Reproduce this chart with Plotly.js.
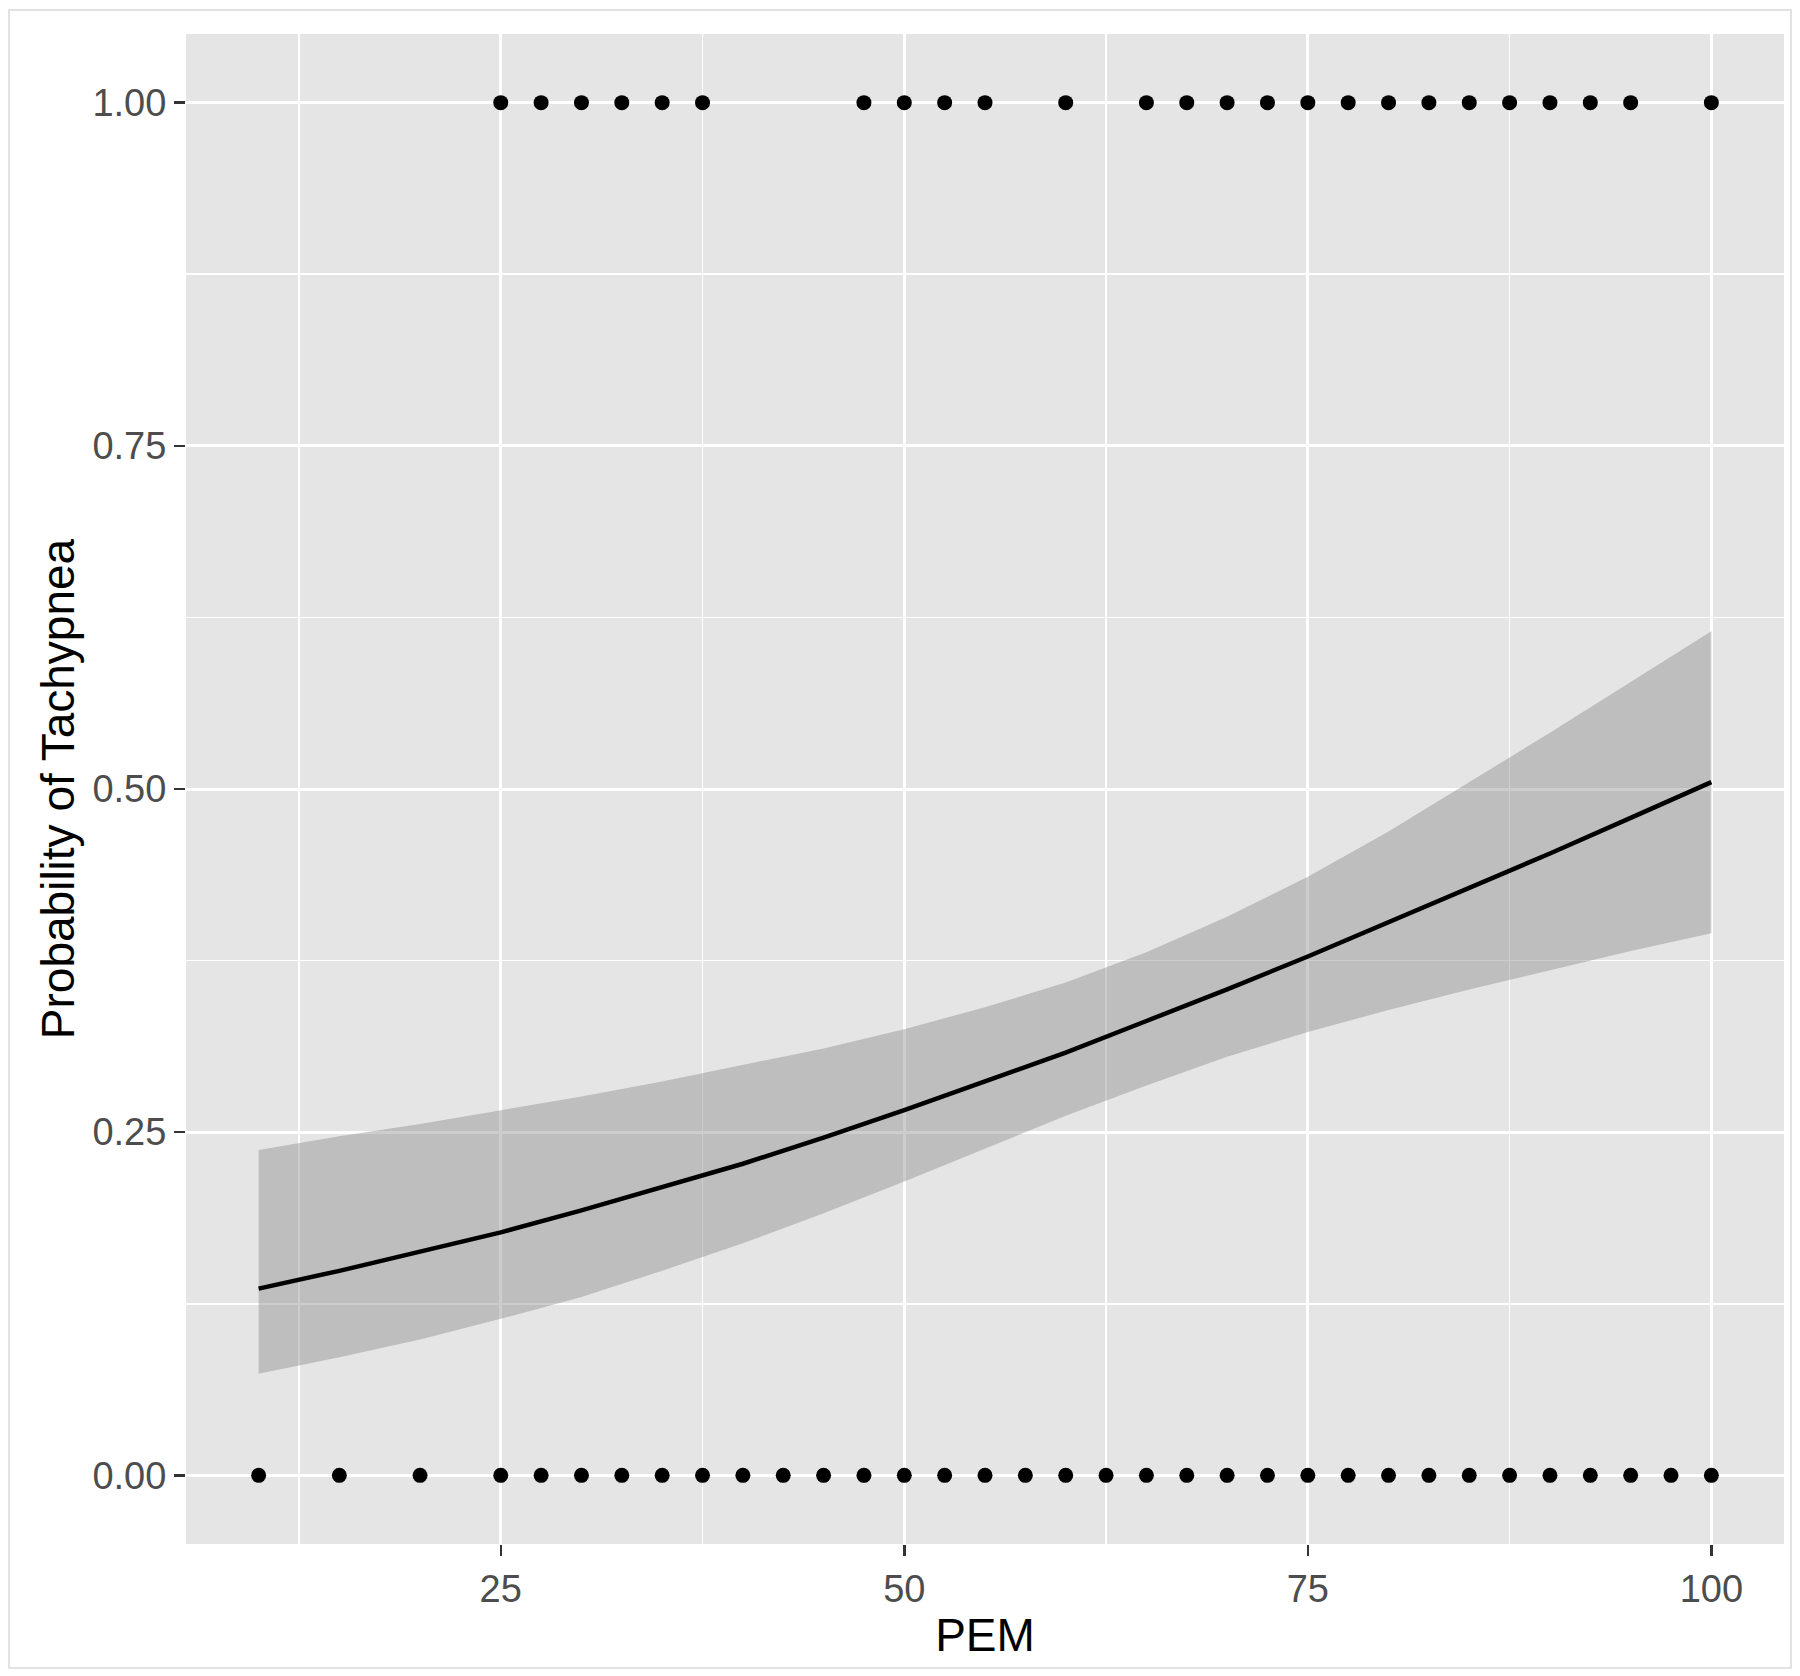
<!DOCTYPE html>
<html>
<head>
<meta charset="utf-8">
<script src="https://cdn.plot.ly/plotly-3.0.1.min.js"></script>
<style>
  html, body { margin: 0; padding: 0; background: #ffffff; }
  #wrap { position: relative; width: 1800px; height: 1676px; }
  #chart { position: absolute; left: 0; top: 0; width: 1800px; height: 1676px; }
  #frame { position: absolute; left: 8px; top: 9px; width: 1780px; height: 1656px;
           border: 2px solid #e2e2e2; pointer-events: none; }
</style>
</head>
<body>
<div id="wrap">
  <div id="chart"></div>
  <div id="frame"></div>
</div>
<script>
// Observed data points (PEM, outcome)
const pemZero = [10, 15, 20, 25, 27.5, 30, 32.5, 35, 37.5, 40, 42.5, 45, 47.5, 50, 52.5, 55, 57.5, 60,
                 62.5, 65, 67.5, 70, 72.5, 75, 77.5, 80, 82.5, 85, 87.5, 90, 92.5, 95, 97.5, 100];
const pemOne = [25, 27.5, 30, 32.5, 35, 37.5, 47.5, 50, 52.5, 55, 60, 65, 67.5, 70, 72.5, 75, 77.5,
                80, 82.5, 85, 87.5, 90, 92.5, 95, 100];
const outcomeZero = pemZero.map(() => 0);
const outcomeOne = pemOne.map(() => 1);

// Fitted probability curve and confidence band
const fitX = [10, 15, 20, 25, 30, 35, 40, 45, 50, 55, 60, 65, 70, 75, 80, 85, 90, 95, 100];
const fitP = [0.136, 0.149, 0.163, 0.177, 0.193, 0.210, 0.227, 0.246, 0.266, 0.287, 0.308, 0.331,
              0.354, 0.378, 0.403, 0.428, 0.453, 0.479, 0.505];
const fitUpper = [0.237, 0.247, 0.256, 0.266, 0.276, 0.287, 0.299, 0.311, 0.325, 0.341, 0.359, 0.381,
                  0.407, 0.436, 0.469, 0.505, 0.541, 0.578, 0.615];
const fitLower = [0.074, 0.086, 0.099, 0.114, 0.130, 0.149, 0.169, 0.191, 0.214, 0.238, 0.262, 0.284,
                  0.305, 0.323, 0.339, 0.354, 0.368, 0.382, 0.395];

// Axis tick labels
const xTicks = [25, 50, 75, 100];
const yTicks = [0, 0.25, 0.5, 0.75, 1];
const yTickText = ["0.00", "0.25", "0.50", "0.75", "1.00"];

const FONT = "Liberation Sans, Arial, Helvetica, sans-serif";

const traces = [
  {
    x: fitX, y: fitLower, type: "scatter", mode: "lines",
    line: { width: 0, color: "rgba(0,0,0,0)" }, hoverinfo: "skip", showlegend: false
  },
  {
    x: fitX, y: fitUpper, type: "scatter", mode: "lines", fill: "tonexty",
    fillcolor: "rgba(133,133,133,0.41)",
    line: { width: 0, color: "rgba(0,0,0,0)" }, hoverinfo: "skip", showlegend: false
  },
  {
    x: fitX, y: fitP, type: "scatter", mode: "lines",
    line: { color: "#000000", width: 4.5 }, showlegend: false
  },
  {
    x: pemZero, y: outcomeZero, type: "scatter", mode: "markers",
    marker: { color: "#000000", size: 15 }, showlegend: false
  },
  {
    x: pemOne, y: outcomeOne, type: "scatter", mode: "markers",
    marker: { color: "#000000", size: 15 }, showlegend: false
  }
];

const layout = {
  width: 1800, height: 1676,
  margin: { l: 186, r: 16, t: 34, b: 132 },
  paper_bgcolor: "#ffffff",
  plot_bgcolor: "#e5e5e5",
  showlegend: false,
  font: { family: FONT, color: "#4d4d4d" },
  xaxis: {
    range: [5.5, 104.5],
    tickvals: xTicks,
    ticktext: xTicks.map(String),
    showgrid: true, gridcolor: "#ffffff", gridwidth: 3,
    minor: { tick0: 0, dtick: 12.5, showgrid: true, gridcolor: "#ffffff", gridwidth: 1.5, ticks: "" },
    zeroline: false, showline: false,
    ticks: "outside", ticklen: 11, tickwidth: 2.5, tickcolor: "#333333",
    tickfont: { family: FONT, size: 38, color: "#4d4d4d" },
    title: { text: "PEM", font: { family: FONT, size: 46, color: "#000000" }, standoff: 10 }
  },
  yaxis: {
    range: [-0.05, 1.05],
    tickvals: yTicks,
    ticktext: yTickText,
    showgrid: true, gridcolor: "#ffffff", gridwidth: 3,
    minor: { tick0: 0, dtick: 0.125, showgrid: true, gridcolor: "#ffffff", gridwidth: 1.5, ticks: "" },
    zeroline: false, showline: false,
    ticks: "outside", ticklen: 11, tickwidth: 2.5, tickcolor: "#333333",
    tickfont: { family: FONT, size: 38, color: "#4d4d4d" },
    title: { text: "Probability of Tachypnea", font: { family: FONT, size: 46, color: "#000000" }, standoff: 3 }
  }
};

Plotly.newPlot("chart", traces, layout, { staticPlot: true, displayModeBar: false });
</script>
</body>
</html>
